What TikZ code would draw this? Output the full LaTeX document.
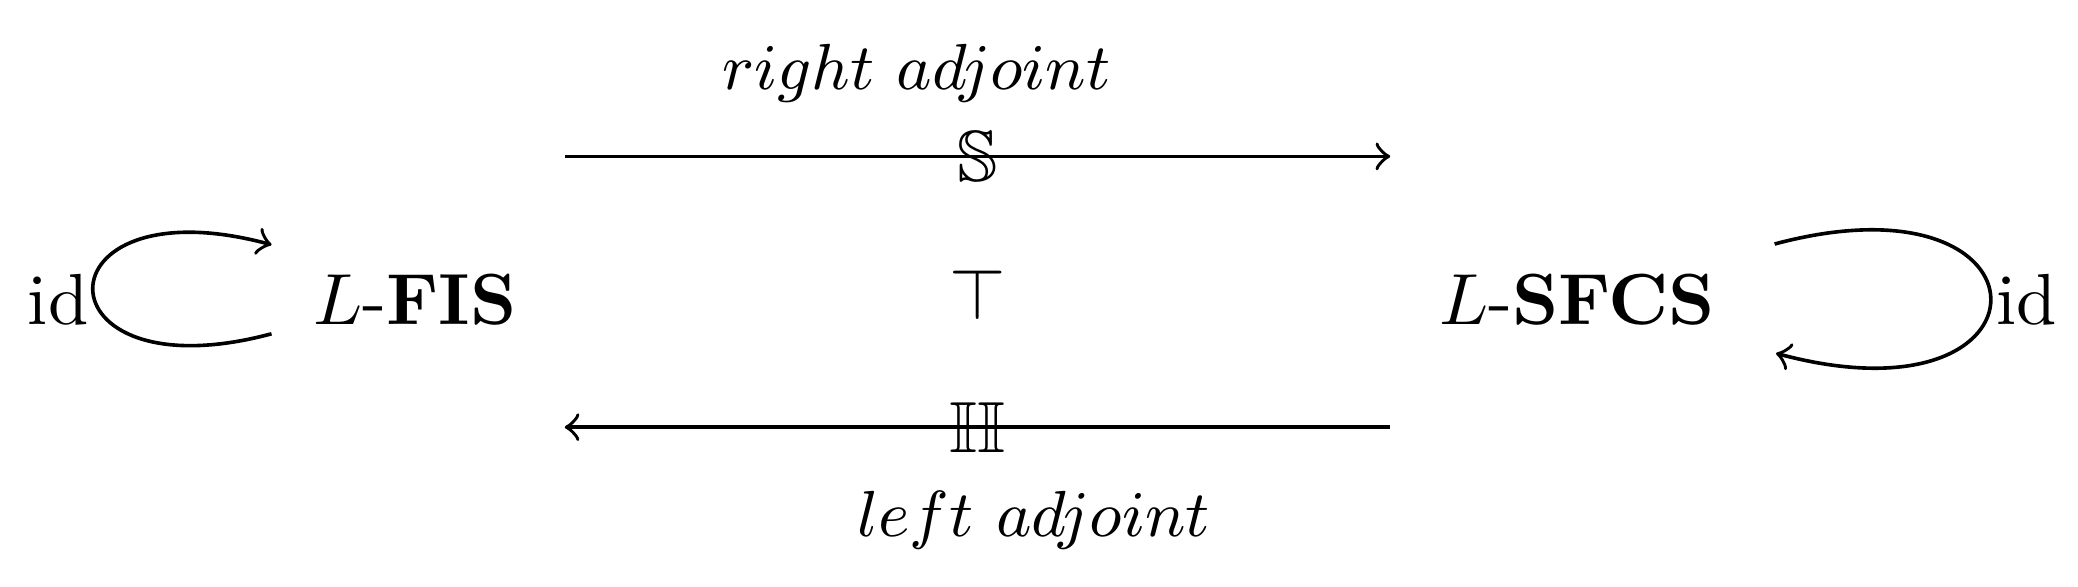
\documentclass[tikz,border=0pt]{standalone}
\usepackage{amsmath, amssymb}
\usetikzlibrary{positioning}

\begin{document}
\begin{tikzpicture}[
     node distance = 127pt,
        obj/.style = {inner sep=0pt},
        lab/.style = {inner sep=0pt, font=\small},
        arr/.style = {->, line width=0.5pt}
                        ]
\useasboundingbox (0,0) rectangle (287pt,81pt);
\node (fis) [obj, anchor=base] at (57.3pt,36.2pt) {$L$-$\mathbf{FIS}$};
\node (sfcs) [obj, right=of fis] {$L$-$\mathbf{SFCS}$};
\node (adj) [obj] at (135pt,40.4pt) {$\top$};
\coordinate (ra-l) at (78pt,59.4pt);
\coordinate (ra-r) at (192pt,59.4pt);
\coordinate (la-l) at (78pt,22pt);
\coordinate (la-r) at (192pt,22pt);
\draw[arr] (ra-l) -- node[obj] {$\mathbb{S}$} (ra-r);
\draw[arr] (la-r) -- node[obj] {$\mathbb{II}$} (la-l);
\node (rlab) [lab, anchor=base] at (126.6pt,68.6pt) {$right\ adjoint$};
\node (llab) [lab, anchor=base] at (142.8pt,6.9pt) {$left\ adjoint$};
\coordinate (fl-s) at (37.5pt,34.9pt);
\coordinate (fl-e) at (37.5pt,47.2pt);
\draw[arr] (fl-s) to[out=195, in=165, distance=34pt] (fl-e);
\node (idl) [obj, anchor=base east] at (12.4pt,36.2pt) {id};
\coordinate (sl-s) at (245.1pt,47.3pt);
\coordinate (sl-e) at (245.3pt,32.2pt);
\draw[arr] (sl-s) to[out=15, in=-15, distance=41pt] (sl-e);
\node (idr) [obj, anchor=base west] at (275.5pt,36.2pt) {id};
\end{tikzpicture}
\end{document}
